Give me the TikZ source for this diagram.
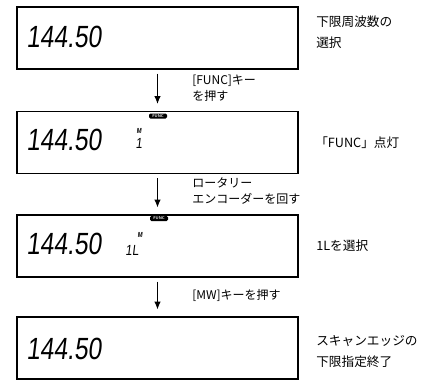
\documentclass[tikz,border=0pt]{standalone}
\usepackage{fontspec}
\usetikzlibrary{arrows.meta}
\newfontfamily\jp{Noto Sans CJK JP}
\newfontfamily\lcd[FakeSlant=0.12,FakeStretch=0.8]{Liberation Sans}
\begin{document}
\begin{tikzpicture}[x=0.75pt,y=-0.75pt,
  lcdbox/.style={draw, line width=1.1pt, minimum width=210.75pt, minimum height=46.5pt, inner sep=0pt},
  digits/.style={anchor=west, inner sep=0pt, font=\lcd\fontsize{23}{23}\selectfont},
  flow/.style={line width=1.1pt, -{Latex[length=6pt,width=5pt]}, shorten <=3pt, shorten >=5pt},
  steplabel/.style={anchor=west, align=left, inner sep=0pt, font=\jp\fontsize{9}{12}\selectfont},
  sidelabel/.style={anchor=west, align=left, inner sep=0pt, font=\jp\fontsize{9.5}{15.75}\selectfont},
  indicator/.style={fill=black, rounded corners=1pt, text=white, inner sep=0pt,
    minimum width=13.5pt, minimum height=3.75pt, font=\sffamily\fontsize{3}{3}\selectfont\bfseries},
  tinyseg/.style={inner sep=0pt, font=\lcd\fontsize{5.5}{5.5}\selectfont\bfseries},
  smallseg/.style={inner sep=0pt, font=\lcd\fontsize{11}{11}\selectfont}]
\useasboundingbox (0,0) rectangle (423,379);

% boxes
\node[lcdbox] (b1) at (157.5,38) {};
\node[lcdbox] (b2) at (157.5,142.5) {};
\node[lcdbox] (b3) at (157.5,246) {};
\node[lcdbox] (b4) at (157.5,348) {};

% digits
\node[digits] (d1) at (26,36.5) {144.50};
\node[digits] (d2) at (26,140) {144.50};
\node[digits] (d3) at (26,243.5) {144.50};
\node[digits] (d4) at (26,348.5) {144.50};

% indicators and small segments
\node[indicator] (f2) at (158,116) {FUNC};
\node[indicator] (f3) at (159,218.5) {FUNC};
\node[tinyseg] (m2) at (139,131) {M};
\node[smallseg] (n2) at (139,143) {1};
\node[tinyseg] (m3) at (140,235) {M};
\node[smallseg] (n3) at (132,250) {1L};

% arrows
\draw[flow] (b1.south) -- (b2.north);
\draw[flow] (b2.south) -- (b3.north);
\draw[flow] (b3.south) -- (b4.north);

% step labels
\node[steplabel] (s1) at (192,88) {[FUNC]キー\\を押す};
\node[steplabel] (s2) at (192,191) {ロータリー\\エンコーダーを回す};
\node[steplabel] (s3) at (192,295) {[MW]キーを押す};

% side labels
\node[sidelabel] (r1) at (316,32.5) {下限周波数の\\選択};
\node[sidelabel] (r2) at (315,143) {「FUNC」点灯};
\node[sidelabel] (r3) at (316,246) {1Lを選択};
\node[sidelabel] (r4) at (316,351.5) {スキャンエッジの\\下限指定終了};
\end{tikzpicture}
\end{document}
